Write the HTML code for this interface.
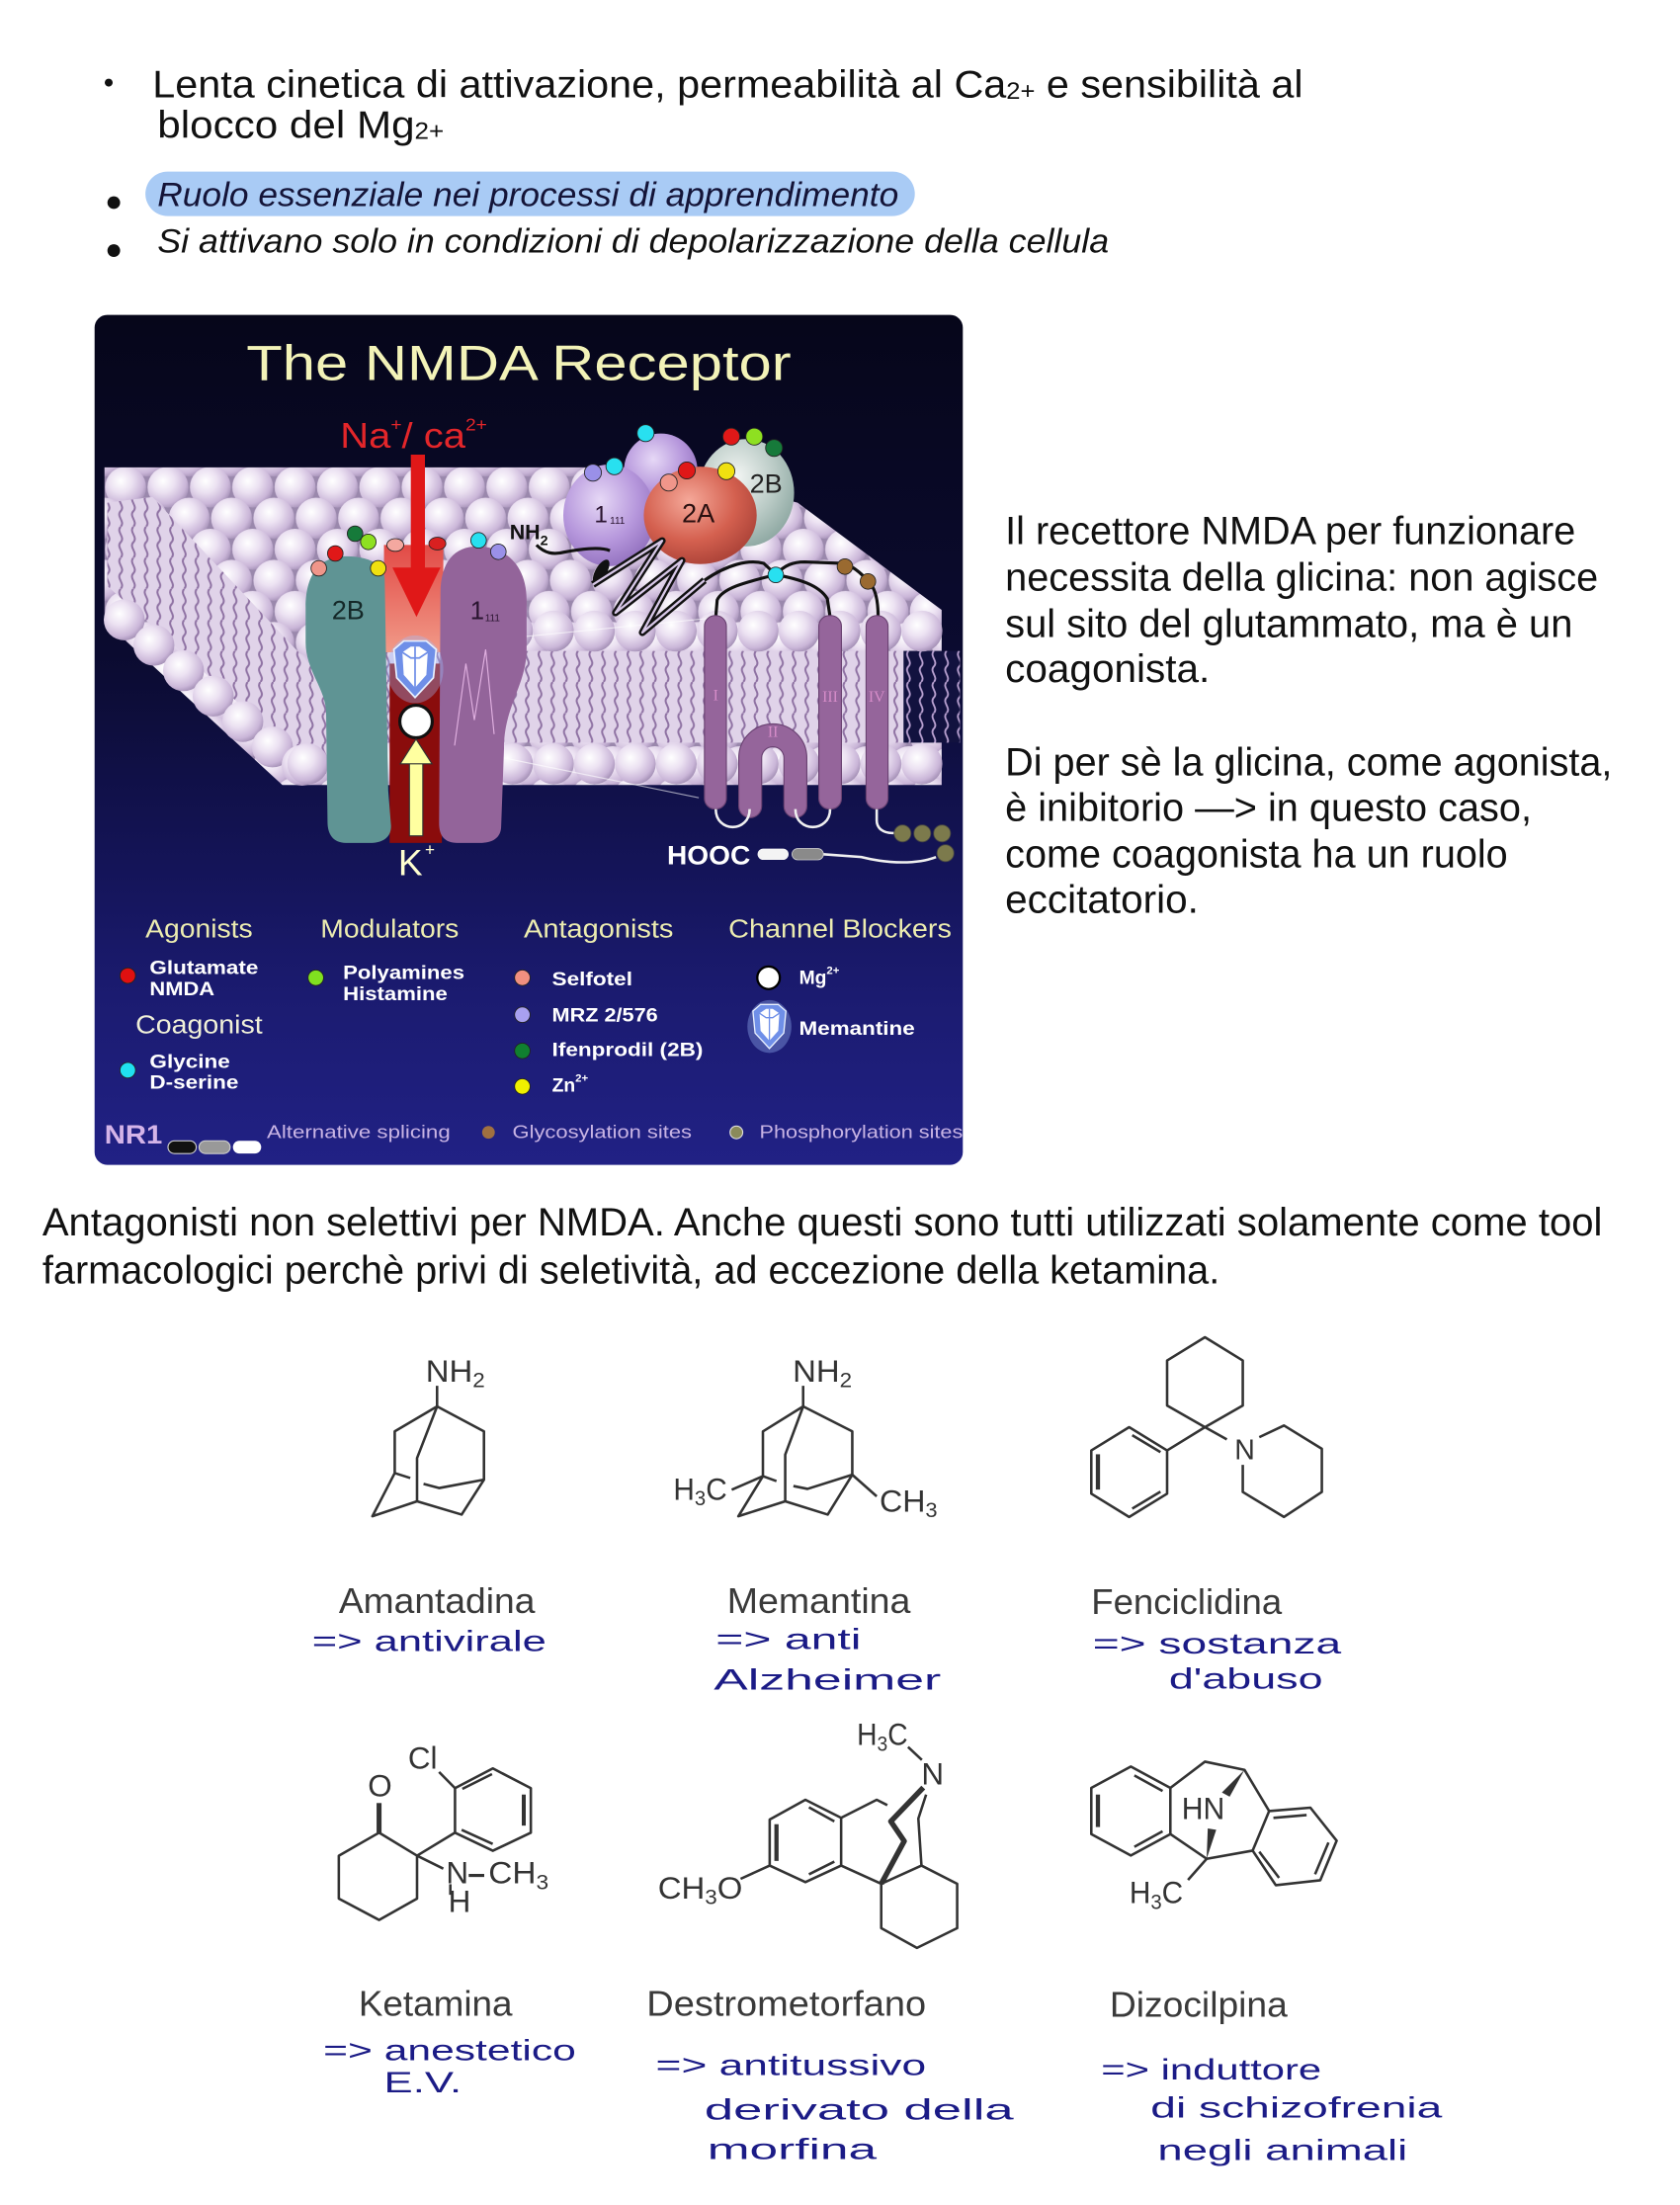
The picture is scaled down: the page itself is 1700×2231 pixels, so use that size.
<!DOCTYPE html>
<html lang="it"><head><meta charset="utf-8"><title>NMDA</title>
<style>
html,body{margin:0;padding:0;background:#ffffff;width:1700px;height:2231px;overflow:hidden;}
svg{display:block;}
</style></head><body>
<svg xmlns="http://www.w3.org/2000/svg" width="1700" height="2231" viewBox="0 0 1190 1561.7" font-family="'Liberation Sans', Arial, sans-serif">
<defs>
 <linearGradient id="bg" x1="0" y1="0" x2="0" y2="1">
  <stop offset="0" stop-color="#06061a"/>
  <stop offset="0.4" stop-color="#0b0b30"/>
  <stop offset="0.65" stop-color="#141458"/>
  <stop offset="0.8" stop-color="#1b1b70"/>
  <stop offset="1" stop-color="#212185"/>
 </linearGradient>
 <radialGradient id="sph" cx="0.38" cy="0.35" r="0.7">
  <stop offset="0" stop-color="#ffffff"/>
  <stop offset="0.4" stop-color="#ece2f2"/>
  <stop offset="0.8" stop-color="#cab6d8"/>
  <stop offset="1" stop-color="#a08cb2"/>
 </radialGradient>
 <pattern id="sp" width="30" height="44" patternUnits="userSpaceOnUse" x="74" y="334">
  <rect width="30" height="44" fill="#9a88ac"/>
  <circle cx="0" cy="-11" r="14.5" fill="url(#sph)"/>
  <circle cx="30" cy="-11" r="14.5" fill="url(#sph)"/>
  <circle cx="15" cy="11" r="14.5" fill="url(#sph)"/>
  <circle cx="0" cy="33" r="14.5" fill="url(#sph)"/>
  <circle cx="30" cy="33" r="14.5" fill="url(#sph)"/>
  <circle cx="15" cy="55" r="14.5" fill="url(#sph)"/>
 </pattern>
 <pattern id="wv" width="9" height="22" patternUnits="userSpaceOnUse" x="0" y="461">
  <rect width="9" height="22" fill="#e0d3e9"/>
  <path d="M4.5,0 C1,3.7 8,7.3 4.5,11 C1,14.7 8,18.3 4.5,22" fill="none" stroke="#8f72a3" stroke-width="1.4"/>
 </pattern>
 <pattern id="wvd" width="9" height="22" patternUnits="userSpaceOnUse" x="0" y="461">
  <rect width="9" height="22" fill="#12123f"/>
  <path d="M4.5,0 C1,3.7 8,7.3 4.5,11 C1,14.7 8,18.3 4.5,22" fill="none" stroke="#b8a0d0" stroke-width="1.3"/>
 </pattern>
 <radialGradient id="gLav" cx="0.4" cy="0.35" r="0.75">
  <stop offset="0" stop-color="#e6d8f6"/><stop offset="0.55" stop-color="#b697dc"/><stop offset="1" stop-color="#8a68b8"/>
 </radialGradient>
 <radialGradient id="gRed" cx="0.4" cy="0.35" r="0.75">
  <stop offset="0" stop-color="#f5a899"/><stop offset="0.55" stop-color="#d4604f"/><stop offset="1" stop-color="#a23c33"/>
 </radialGradient>
 <radialGradient id="gGry" cx="0.4" cy="0.35" r="0.75">
  <stop offset="0" stop-color="#f2f5f3"/><stop offset="0.55" stop-color="#b9cac5"/><stop offset="1" stop-color="#84a09a"/>
 </radialGradient>
 <linearGradient id="gPore" x1="0" y1="0" x2="0" y2="1">
  <stop offset="0" stop-color="#e24a46"/><stop offset="1" stop-color="#f19a88"/>
 </linearGradient>
</defs>

<rect width="1190" height="1561.7" fill="#ffffff"/>

<!-- top bullets -->
<circle cx="77" cy="58.5" r="2.8" fill="#111"/>
<text x="108" y="69" font-size="27.5" fill="#111" textLength="815" lengthAdjust="spacingAndGlyphs">Lenta cinetica di attivazione, permeabilità al Ca<tspan font-size="17" dy="1">2+</tspan><tspan dy="-1"> e sensibilità al</tspan></text>
<text x="111.5" y="97.5" font-size="27.5" fill="#111" textLength="203" lengthAdjust="spacingAndGlyphs">blocco del Mg<tspan font-size="17" dy="1">2+</tspan></text>
<rect x="103" y="121.5" width="545" height="31.5" rx="15.75" fill="#a9cbf5"/>
<circle cx="80.6" cy="143.5" r="4.5" fill="#111"/>
<text x="111.5" y="146" font-size="24" font-style="italic" fill="#141438" textLength="525" lengthAdjust="spacingAndGlyphs">Ruolo essenziale nei processi di apprendimento</text>
<circle cx="80.6" cy="177.5" r="4.5" fill="#111"/>
<text x="111.5" y="179" font-size="24" font-style="italic" fill="#111" textLength="674" lengthAdjust="spacingAndGlyphs">Si attivano solo in condizioni di depolarizzazione della cellula</text>

<!-- PANEL -->
<rect x="67" y="223" width="615" height="602" rx="9" fill="url(#bg)"/>
<text x="174.5" y="269" font-size="35" fill="#f3f3b8" textLength="386" lengthAdjust="spacingAndGlyphs">The NMDA Receptor</text>
<text x="241" y="317" font-size="25" fill="#e3262a" textLength="104" lengthAdjust="spacingAndGlyphs">Na<tspan font-size="12" dy="-12">+</tspan><tspan dy="12">/ ca</tspan><tspan font-size="12" dy="-12">2+</tspan></text>

<!-- membrane -->
<polygon points="74,331 470,331 565,356 667,432 667,556 200,556 74,440" fill="url(#sp)"/>
<polygon points="76,356 108,352 252,505 252,548 225,548 76,415" fill="url(#wv)"/>
<rect x="240" y="461" width="402" height="65" fill="url(#wv)"/>
<rect x="640" y="461" width="40" height="65" fill="url(#wvd)"/>
<g fill="url(#sph)">
 <circle cx="88" cy="439" r="14.5"/><circle cx="109" cy="457" r="14.5"/><circle cx="130" cy="475" r="14.5"/>
 <circle cx="151" cy="493" r="14.5"/><circle cx="172" cy="511" r="14.5"/><circle cx="193" cy="529" r="14.5"/>
 <circle cx="214" cy="542" r="14.5"/>
 <circle cx="247" cy="447" r="14.5"/><circle cx="276" cy="447" r="14.5"/><circle cx="305" cy="447" r="14.5"/>
 <circle cx="334" cy="447" r="14.5"/><circle cx="363" cy="447" r="14.5"/><circle cx="392" cy="447" r="14.5"/>
 <circle cx="421" cy="447" r="14.5"/><circle cx="450" cy="447" r="14.5"/><circle cx="479" cy="447" r="14.5"/>
 <circle cx="508" cy="447" r="14.5"/><circle cx="537" cy="447" r="14.5"/><circle cx="566" cy="447" r="14.5"/>
 <circle cx="595" cy="447" r="14.5"/><circle cx="624" cy="447" r="14.5"/><circle cx="653" cy="447" r="14.5"/>
 <circle cx="218" cy="541" r="14.5"/><circle cx="247" cy="541" r="14.5"/><circle cx="276" cy="541" r="14.5"/>
 <circle cx="305" cy="541" r="14.5"/><circle cx="334" cy="541" r="14.5"/><circle cx="363" cy="541" r="14.5"/>
 <circle cx="392" cy="541" r="14.5"/><circle cx="421" cy="541" r="14.5"/><circle cx="450" cy="541" r="14.5"/>
 <circle cx="479" cy="541" r="14.5"/><circle cx="508" cy="541" r="14.5"/><circle cx="537" cy="541" r="14.5"/>
 <circle cx="566" cy="541" r="14.5"/><circle cx="595" cy="541" r="14.5"/><circle cx="624" cy="541" r="14.5"/>
 <circle cx="653" cy="541" r="14.5"/>
</g>

<!-- faint lines -->
<path d="M360,452 L502,438 M348,535 L495,565" stroke="#ffffff" stroke-opacity="0.6" stroke-width="0.8" fill="none"/>

<!-- channel -->
<path d="M272,386 L314,386 L314,462 L272,462 Z" fill="url(#gPore)"/>
<rect x="276" y="470" width="37" height="127" fill="#8a0c0c"/>
<path d="M216.5,430 C216.5,405 228,394 245,394 C262,394 272,400 272.5,410 L275,560 L277,585 C277,594 270,597 262,597 L245,597 C236,597 232,591 232,582 L231,505 C231,488 216.5,475 216.5,455 Z" fill="#5f9494"/>
<path d="M312,420 C312,398 322,387 338,387 C358,387 373,400 373,425 L373,460 C373,485 357,500 357,530 L355,585 C355,594 348,597 340,597 L324,597 C315,597 311,592 311,583 Z" fill="#93649a"/>
<path d="M322,528 L330,470 L336,510 L344,460 L350,520" stroke="#e0b0e0" stroke-width="0.8" fill="none"/>
<text x="235" y="438.5" font-size="19" fill="#142828">2B</text>
<text x="333" y="438.5" font-size="18" fill="#2a1430">1</text>
<text x="343.5" y="440" font-size="7" fill="#2a1430">111</text>
<!-- red arrow -->
<rect x="291" y="322" width="10" height="82" fill="#e01818"/>
<polygon points="278,402 312,402 295,437" fill="#e01818"/>
<!-- memantine -->
<g transform="translate(294,474)">
 <ellipse cx="0" cy="0" rx="20" ry="24" fill="#a0c0ff" opacity="0.35"/>
 <polygon points="-15,-14 -8,-20 8,-20 15,-14 13,6 0,20 -13,6" fill="#6f8fe8" stroke="#e8f0ff" stroke-width="1.2"/>
 <polygon points="-9,-12 -3,-16 3,-16 9,-12 8,4 0,13 -8,4" fill="#ffffff"/>
 <path d="M0,-16 L0,13 M-9,-12 L-3,-8 L3,-8 L9,-12" stroke="#6f8fe8" stroke-width="1.2" fill="none"/>
</g>
<circle cx="294.7" cy="511" r="11.5" fill="#ffffff" stroke="#111" stroke-width="2.2"/>
<rect x="290" y="540" width="9.5" height="52" fill="#ffffa0" stroke="#333" stroke-width="0.8"/>
<polygon points="283.5,541 306,541 294.7,523.5" fill="#ffffa0" stroke="#333" stroke-width="0.8"/>
<text x="282" y="620" font-size="26" fill="#ffffd0">K</text>
<text x="301" y="606" font-size="12" fill="#ffffd0">+</text>
<!-- dots on channel -->
<g stroke="#222" stroke-width="0.6">
 <circle cx="251.5" cy="378" r="5.5" fill="#167a3a"/>
 <circle cx="260.9" cy="383.8" r="5.5" fill="#8ee021"/>
 <circle cx="237.5" cy="392" r="5.5" fill="#e01818"/>
 <circle cx="225.8" cy="402.5" r="5.5" fill="#f0968a"/>
 <circle cx="267.9" cy="402.5" r="5.5" fill="#f0e010"/>
 <ellipse cx="280" cy="386" rx="6" ry="4.5" fill="#f4a8a0"/>
 <ellipse cx="309.8" cy="385" rx="6" ry="4.5" fill="#d82020"/>
 <circle cx="339" cy="382.7" r="5.5" fill="#28e0f0"/>
 <circle cx="353" cy="390.8" r="5.5" fill="#9a90e8"/>
</g>
<text x="361" y="382" font-size="15" font-weight="bold" fill="#111">NH<tspan font-size="10" dy="4">2</tspan></text>

<!-- extracellular domains -->
<circle cx="468" cy="333" r="26" fill="url(#gLav)"/>
<ellipse cx="528.5" cy="349" rx="34" ry="38" fill="url(#gGry)"/>
<ellipse cx="431.5" cy="365" rx="32.5" ry="36" fill="url(#gLav)"/>
<ellipse cx="496" cy="365" rx="40" ry="34.5" fill="url(#gRed)"/>
<text x="531" y="349" font-size="19" fill="#222">2B</text>
<text x="483" y="370" font-size="19" fill="#2a1010">2A</text>
<text x="421" y="370" font-size="17" fill="#2a1430">1</text>
<text x="432" y="371" font-size="7" fill="#2a1430">111</text>
<g stroke="#222" stroke-width="0.6">
 <circle cx="457.3" cy="306.8" r="6" fill="#28e0f0"/>
 <circle cx="420" cy="334.8" r="6" fill="#9a90e8"/>
 <circle cx="435.2" cy="330.2" r="6" fill="#28e0f0"/>
 <circle cx="473.7" cy="341.8" r="6" fill="#f0968a"/>
 <circle cx="486.5" cy="333.2" r="6" fill="#e01818"/>
 <circle cx="514.5" cy="333.7" r="6" fill="#f0e010"/>
 <circle cx="518" cy="309.2" r="6" fill="#e01818"/>
 <circle cx="534.3" cy="309.2" r="6" fill="#8ee021"/>
 <circle cx="548.3" cy="317.3" r="6" fill="#167a3a"/>
</g>

<!-- M domain line -->
<path d="M380,386 C386,392 392,393 400,391 C410,389 425,387 432,390" stroke="#111" stroke-width="2.2" fill="none"/>
<ellipse cx="425.8" cy="404.8" rx="4" ry="9.5" transform="rotate(30 425.8 404.8)" fill="#111"/>
<path d="M420,414 L469,383 L436,434 L483,397 L455,448 L499,411" stroke="#111" stroke-width="5" fill="none" stroke-linejoin="round"/>
<path d="M420,414 L469,383 L436,434 L483,397 L455,448 L499,411" stroke="#d8c8e8" stroke-width="1.6" fill="none" stroke-linejoin="round"/>
<path d="M499,411 C515,400 530,396 541,399 L549.5,407 C556,400 562,398 570,398 L598,399 C606,402 612,408 615,412 C620,416 622,425 622,437 M549.5,407 C530,412 512,416 508,425 L507,437 M549.5,407 C565,410 580,414 586,424 L588,437" stroke="#111" stroke-width="2.2" fill="none"/>
<g stroke="#222" stroke-width="0.6">
 <circle cx="549.5" cy="407.2" r="5.5" fill="#28e0f0"/>
 <circle cx="598.5" cy="401.3" r="5.5" fill="#9a6a30"/>
 <circle cx="614.8" cy="411.8" r="5.5" fill="#9a6a30"/>
</g>

<!-- helices -->
<g fill="#95659b" stroke="#6a4272" stroke-width="0.8">
 <rect x="499" y="436" width="15.5" height="137" rx="7.5"/>
 <rect x="580" y="436" width="16" height="137" rx="7.5"/>
 <rect x="613.5" y="436" width="15.5" height="137" rx="7.5"/>
</g>
<path d="M531.4,571 L531.4,536.8 A16 16 0 0 1 563.4,536.8 L563.4,571" stroke="#6a4272" stroke-width="17" fill="none" stroke-linecap="round"/>
<path d="M531.4,571 L531.4,536.8 A16 16 0 0 1 563.4,536.8 L563.4,571" stroke="#95659b" stroke-width="15.4" fill="none" stroke-linecap="round"/>
<g font-family="'Liberation Serif', serif" font-size="11" fill="#d58cc8" text-anchor="middle">
 <text x="507" y="496">I</text><text x="547.5" y="522">II</text><text x="588" y="497">III</text><text x="621" y="497">IV</text>
</g>
<path d="M507,573 C507,590 531,590 531,573 M563.4,573 C563.4,590 588,590 588,573 M621,573 L621,581 C621,587 626,590 632,590 L639,590 M663,607 C650,612 630,612 610,607 L583,605" stroke="#f0f0f0" stroke-width="1.8" fill="none"/>
<g fill="#7c7a4c" stroke="#444" stroke-width="0.6">
 <circle cx="639.3" cy="590.3" r="6"/><circle cx="653.3" cy="590.3" r="6"/><circle cx="667.3" cy="590.3" r="6"/><circle cx="669.7" cy="604.3" r="6"/>
</g>
<rect x="561" y="601" width="22.3" height="8" rx="4" fill="#8a8a8a" stroke="#cccccc" stroke-width="0.6"/>
<rect x="536.6" y="601" width="22" height="8" rx="4" fill="#f4f4f4"/>
<text x="472.5" y="612" font-size="19" font-weight="bold" fill="#ffffff" textLength="59" lengthAdjust="spacingAndGlyphs">HOOC</text>

<!-- legend -->
<g font-size="18" fill="#ececb0">
 <text x="103" y="664" textLength="76" lengthAdjust="spacingAndGlyphs">Agonists</text>
 <text x="227" y="664" textLength="98" lengthAdjust="spacingAndGlyphs">Modulators</text>
 <text x="371" y="664" textLength="106" lengthAdjust="spacingAndGlyphs">Antagonists</text>
 <text x="516" y="664" textLength="158" lengthAdjust="spacingAndGlyphs">Channel Blockers</text>
 <text x="96" y="732" fill="#f0f0d8" textLength="90" lengthAdjust="spacingAndGlyphs">Coagonist</text>
</g>
<g font-size="13.5" font-weight="bold" fill="#ffffff">
 <text x="106" y="690" textLength="77" lengthAdjust="spacingAndGlyphs">Glutamate</text>
 <text x="106" y="705" textLength="46" lengthAdjust="spacingAndGlyphs">NMDA</text>
 <text x="106" y="756.5" textLength="57" lengthAdjust="spacingAndGlyphs">Glycine</text>
 <text x="106" y="771" textLength="63" lengthAdjust="spacingAndGlyphs">D-serine</text>
 <text x="243" y="693.5" textLength="86" lengthAdjust="spacingAndGlyphs">Polyamines</text>
 <text x="243" y="708.5" textLength="74" lengthAdjust="spacingAndGlyphs">Histamine</text>
 <text x="391" y="698" textLength="57" lengthAdjust="spacingAndGlyphs">Selfotel</text>
 <text x="391" y="723.5" textLength="75" lengthAdjust="spacingAndGlyphs">MRZ 2/576</text>
 <text x="391" y="748" textLength="107" lengthAdjust="spacingAndGlyphs">Ifenprodil (2B)</text>
 <text x="391" y="773">Zn<tspan font-size="8" dy="-7">2+</tspan></text>
 <text x="566" y="697">Mg<tspan font-size="8" dy="-7">2+</tspan></text>
 <text x="566" y="733" textLength="82" lengthAdjust="spacingAndGlyphs">Memantine</text>
</g>
<g stroke="#222" stroke-width="0.6">
 <circle cx="90.5" cy="691" r="5.5" fill="#e01010"/>
 <circle cx="90.5" cy="758" r="5.5" fill="#20e0f0"/>
 <circle cx="223.7" cy="692.5" r="5.5" fill="#80e020"/>
 <circle cx="370" cy="692.5" r="5.5" fill="#f09080"/>
 <circle cx="370" cy="718.7" r="5.5" fill="#a8a0f0"/>
 <circle cx="370" cy="744.3" r="5.5" fill="#108030"/>
 <circle cx="370" cy="769.5" r="5.5" fill="#f0f000"/>
</g>
<circle cx="544.4" cy="692.5" r="8" fill="#ffffff" stroke="#000" stroke-width="1.6"/>
<g transform="translate(545,727) scale(0.78)">
 <ellipse cx="0" cy="0" rx="20" ry="24" fill="#a0c0ff" opacity="0.35"/>
 <polygon points="-15,-14 -8,-20 8,-20 15,-14 13,6 0,20 -13,6" fill="#6f8fe8" stroke="#e8f0ff" stroke-width="1.2"/>
 <polygon points="-9,-12 -3,-16 3,-16 9,-12 8,4 0,13 -8,4" fill="#ffffff"/>
 <path d="M0,-16 L0,13 M-9,-12 L-3,-8 L3,-8 L9,-12" stroke="#6f8fe8" stroke-width="1.2" fill="none"/>
</g>
<text x="74" y="810" font-size="19" font-weight="bold" fill="#d4b4e8" textLength="41" lengthAdjust="spacingAndGlyphs">NR1</text>
<rect x="119" y="808" width="20" height="9" rx="4.5" fill="#111" stroke="#cccccc" stroke-width="0.8"/>
<rect x="141" y="808" width="22" height="9" rx="4.5" fill="#999999" stroke="#cccccc" stroke-width="0.8"/>
<rect x="165" y="808" width="20" height="9" rx="4.5" fill="#ffffff"/>
<g font-size="13" fill="#c8b4e4">
 <text x="189" y="806" textLength="130" lengthAdjust="spacingAndGlyphs">Alternative splicing</text>
 <text x="363" y="806" textLength="127" lengthAdjust="spacingAndGlyphs">Glycosylation sites</text>
 <text x="538" y="806" textLength="144" lengthAdjust="spacingAndGlyphs">Phosphorylation sites</text>
</g>
<circle cx="346" cy="802" r="4.5" fill="#a07040"/>
<circle cx="521.6" cy="802" r="4.5" fill="#8a8a5a" stroke="#dddddd" stroke-width="0.8"/>

<!-- right paragraph -->
<g font-size="28" fill="#111">
 <text x="712" y="385.5" textLength="404" lengthAdjust="spacingAndGlyphs">Il recettore NMDA per funzionare</text>
 <text x="712" y="418.3" textLength="420" lengthAdjust="spacingAndGlyphs">necessita della glicina: non agisce</text>
 <text x="712" y="451.2" textLength="402" lengthAdjust="spacingAndGlyphs">sul sito del glutammato, ma è un</text>
 <text x="712" y="483" textLength="145" lengthAdjust="spacingAndGlyphs">coagonista.</text>
 <text x="712" y="549.2" textLength="430" lengthAdjust="spacingAndGlyphs">Di per sè la glicina, come agonista,</text>
 <text x="712" y="581.5" textLength="373" lengthAdjust="spacingAndGlyphs">è inibitorio —&gt; in questo caso,</text>
 <text x="712" y="614.3" textLength="356" lengthAdjust="spacingAndGlyphs">come coagonista ha un ruolo</text>
 <text x="712" y="646.5" textLength="137" lengthAdjust="spacingAndGlyphs">eccitatorio.</text>
</g>

<!-- bottom paragraph -->
<g font-size="28" fill="#111">
 <text x="30" y="875" textLength="1105" lengthAdjust="spacingAndGlyphs">Antagonisti non selettivi per NMDA. Anche questi sono tutti utilizzati solamente come tool</text>
 <text x="30" y="909" textLength="834" lengthAdjust="spacingAndGlyphs">farmacologici perchè privi di seletività, ad eccezione della ketamina.</text>
</g>

<!-- CHEM ROW 1 -->
<g transform="translate(0,1.5)">
 <g stroke="#333" stroke-width="1.8" fill="none" stroke-linejoin="round">
  <path d="M309.6,980 L309.6,994.6"/>
  <path d="M309.6,994.6 L279.6,1012.3 L279.6,1041.8 L263.8,1072.4 L295.4,1061.8 L327,1071.2 L342.8,1046.5 L342.8,1012.3 Z"/>
  <path d="M309.6,994.6 L295.4,1031.2 L295.4,1061.8"/>
  <path d="M279.6,1041.8 L290.6,1045.3 M300,1049.5 L311.2,1052.4 L342.8,1046.5"/>
  <path d="M568.9,980 L568.9,994.6"/>
  <path d="M568.9,994.6 L540.4,1012.3 L540.4,1044 L523,1072.4 L556.2,1061.8 L586.3,1071.2 L603.7,1043 L603.7,1012.3 Z"/>
  <path d="M568.9,994.6 L556.2,1028.8 L556.2,1061.8"/>
  <path d="M540.4,1044 L550,1047.5 M562,1051 L572,1053 L603.7,1043"/>
  <path d="M603.7,1043 L621,1058.3 M540.4,1044 L518.3,1053.6"/>
 </g>
 <g font-size="22" fill="#333">
  <text x="301.5" y="977" textLength="42" lengthAdjust="spacingAndGlyphs">NH<tspan font-size="15" dy="4">2</tspan></text>
  <text x="561.5" y="977" textLength="42" lengthAdjust="spacingAndGlyphs">NH<tspan font-size="15" dy="4">2</tspan></text>
  <text x="477" y="1060.6" textLength="38" lengthAdjust="spacingAndGlyphs">H<tspan font-size="15" dy="4">3</tspan><tspan dy="-4">C</tspan></text>
  <text x="623" y="1069" textLength="41" lengthAdjust="spacingAndGlyphs">CH<tspan font-size="15" dy="4">3</tspan></text>
 </g>
 <g font-size="25.5" fill="#3a3a3a">
  <text x="240" y="1141" textLength="139" lengthAdjust="spacingAndGlyphs">Amantadina</text>
  <text x="515" y="1141" textLength="130" lengthAdjust="spacingAndGlyphs">Memantina</text>
 </g>
 <g font-size="21" fill="#1b1b86">
  <text x="221" y="1168" textLength="166" lengthAdjust="spacingAndGlyphs">=&gt; antivirale</text>
  <text x="507" y="1166.5" textLength="103" lengthAdjust="spacingAndGlyphs">=&gt; anti</text>
  <text x="505.6" y="1195" textLength="161" lengthAdjust="spacingAndGlyphs">Alzheimer</text>
 </g>
</g>

<g transform="translate(3,2)">
 <g stroke="#333" stroke-width="1.8" fill="none" stroke-linejoin="round">
  <path d="M850.5,945.1 L877.3,961.6 L877.3,993.5 L850.5,1008.8 L823.7,993.5 L823.7,961.6 Z"/>
  <path d="M850.5,1008.8 L823.7,1025.3 M850.5,1008.8 L866,1017.5"/>
  <path d="M823.7,1025.3 L823.7,1055.9 L796.8,1072.4 L770,1055.9 L770,1025.3 L796.8,1008.8 Z"/>
  <path d="M774.7,1028 L774.7,1053" stroke-width="3"/>
  <path d="M799,1014.5 L819,1026.5 M799,1066.5 L819,1054.5"/>
  <path d="M889,1015.9 L906.5,1007.6 L933.3,1024.1 L933.3,1054.7 L906.5,1072.4 L877.3,1054.7 L877.3,1035.5"/>
 </g>
 <text x="871.5" y="1031.4" font-size="20" fill="#333">N</text>
 <text x="770" y="1141" font-size="25.5" fill="#3a3a3a" textLength="135" lengthAdjust="spacingAndGlyphs">Fenciclidina</text>
 <g font-size="21" fill="#1b1b86">
  <text x="771" y="1169" textLength="176" lengthAdjust="spacingAndGlyphs">=&gt; sostanza</text>
  <text x="825" y="1194" textLength="109" lengthAdjust="spacingAndGlyphs">d'abuso</text>
 </g>
</g>

<!-- CHEM ROW 2 -->
<g transform="translate(0,3)">
 <g stroke="#333" stroke-width="1.8" fill="none" stroke-linejoin="round">
  <path d="M268.5,1295 L295.4,1311.3 L295.4,1341.7 L268.5,1356.8 L240,1341.7 L240,1311.3 Z"/>
  <path d="M268.5,1274 L268.5,1295" stroke-width="3.5"/>
  <path d="M295.4,1311.3 L322.3,1295 M295.4,1311.3 L314,1320.5"/>
  <path d="M322.3,1263.5 L349.1,1249.5 L376,1263.5 L376,1295 L349.1,1307.8 L322.3,1295 Z"/>
  <path d="M327.5,1264 L348.5,1253.5 M327,1293 L349,1303"/>
  <path d="M371,1268 L371,1290" stroke-width="2.8"/>
  <path d="M322.3,1263.5 L311,1252"/>
  <path d="M319,1331.5 L319,1339"/>
  <path d="M332,1325.3 L343,1325.3" stroke-width="2.2"/>
  <path d="M643.2,1234.3 L653,1243.5 M524.6,1327.7 L545.2,1318.3"/>
  <path d="M545.2,1318.3 L545.2,1285.7 L570.5,1271.7 L595.8,1284.5 L595.8,1318.3 L570.5,1330 Z"/>
  <path d="M550,1289 L550,1315" stroke-width="3"/>
  <path d="M573,1277 L591,1287 M573,1324.5 L591,1315.5"/>
  <path d="M595.8,1284.5 L621,1271.7 L628.5,1275.5"/>
  <path d="M654,1263 L631,1287 L640.5,1301 L624.2,1331.2" stroke-width="3.8"/>
  <path d="M595.8,1318.3 L624.2,1331.2"/>
  <path d="M624.2,1331.2 L624.2,1362.6 L649.5,1376.6 L678,1362.6 L678,1331.2 L652.7,1318.3 Z"/>
  <path d="M652.7,1318.3 L650.5,1285 L656,1268"/>
 </g>
 <g font-size="22" fill="#333">
  <text x="289" y="1249.5">Cl</text>
  <text x="260.6" y="1269.3">O</text>
  <text x="316" y="1331">N</text>
  <text x="346" y="1331" textLength="42.6" lengthAdjust="spacingAndGlyphs">CH<tspan font-size="15" dy="4">3</tspan></text>
  <text x="317.5" y="1351">H</text>
  <text x="607" y="1233" textLength="36" lengthAdjust="spacingAndGlyphs">H<tspan font-size="15" dy="4">3</tspan><tspan dy="-4">C</tspan></text>
  <text x="652.7" y="1261">N</text>
  <text x="466" y="1341.7" textLength="60" lengthAdjust="spacingAndGlyphs">CH<tspan font-size="15" dy="4">3</tspan><tspan dy="-4">O</tspan></text>
 </g>
 <g font-size="25.5" fill="#3a3a3a">
  <text x="254" y="1424.5" textLength="109" lengthAdjust="spacingAndGlyphs">Ketamina</text>
  <text x="458" y="1424.5" textLength="198" lengthAdjust="spacingAndGlyphs">Destrometorfano</text>
 </g>
 <g font-size="21" fill="#1b1b86">
  <text x="229" y="1456" textLength="179" lengthAdjust="spacingAndGlyphs">=&gt; anestetico</text>
  <text x="272" y="1479" textLength="55" lengthAdjust="spacingAndGlyphs">E.V.</text>
  <text x="464.5" y="1466.5" textLength="191.5" lengthAdjust="spacingAndGlyphs">=&gt; antitussivo</text>
  <text x="499" y="1498" textLength="219" lengthAdjust="spacingAndGlyphs">derivato della</text>
  <text x="501" y="1526" textLength="120" lengthAdjust="spacingAndGlyphs">morfina</text>
 </g>
</g>

<g transform="translate(3,4)">
 <g stroke="#333" stroke-width="1.8" fill="none" stroke-linejoin="round">
  <path d="M770,1262.3 L798,1247.2 L826,1262.3 L826,1295 L798,1310.2 L770,1295 Z"/>
  <path d="M774.7,1267 L774.7,1290" stroke-width="3"/>
  <path d="M800.5,1253.5 L820.5,1264.5 M800.5,1304 L820.5,1293"/>
  <path d="M826,1262.3 L850.5,1243.7 L878.5,1249.5 L896,1278.7"/>
  <path d="M896,1278.7 L925.2,1276.3 L943.8,1299.7 L932.2,1327.7 L900.7,1331.2 L884.3,1306.7 Z"/>
  <path d="M899,1283.5 L922.5,1281.5 M938,1301 L928.5,1323.5 M903,1326 L889,1307.5"/>
  <path d="M826,1295 L851.7,1312.5 L884.3,1306.7 M851.7,1312.5 L838.5,1327.5"/>
 </g>
 <polygon points="878.5,1249.5 862.5,1265.5 868,1268.5" fill="#333"/>
 <polygon points="851.7,1312.5 852.5,1291 858.5,1292" fill="#333"/>
 <g font-size="22" fill="#333">
  <text x="834" y="1284.5" textLength="30.5" lengthAdjust="spacingAndGlyphs">HN</text>
  <text x="797" y="1344" textLength="38" lengthAdjust="spacingAndGlyphs">H<tspan font-size="15" dy="4">3</tspan><tspan dy="-4">C</tspan></text>
 </g>
 <text x="783" y="1424.5" font-size="25.5" fill="#3a3a3a" textLength="126" lengthAdjust="spacingAndGlyphs">Dizocilpina</text>
 <g font-size="21" fill="#1b1b86">
  <text x="777" y="1468.8" textLength="156" lengthAdjust="spacingAndGlyphs">=&gt; induttore</text>
  <text x="812" y="1495.6" textLength="206.5" lengthAdjust="spacingAndGlyphs">di schizofrenia</text>
  <text x="817" y="1526" textLength="177" lengthAdjust="spacingAndGlyphs">negli animali</text>
 </g>
</g>
</svg>
</body></html>
